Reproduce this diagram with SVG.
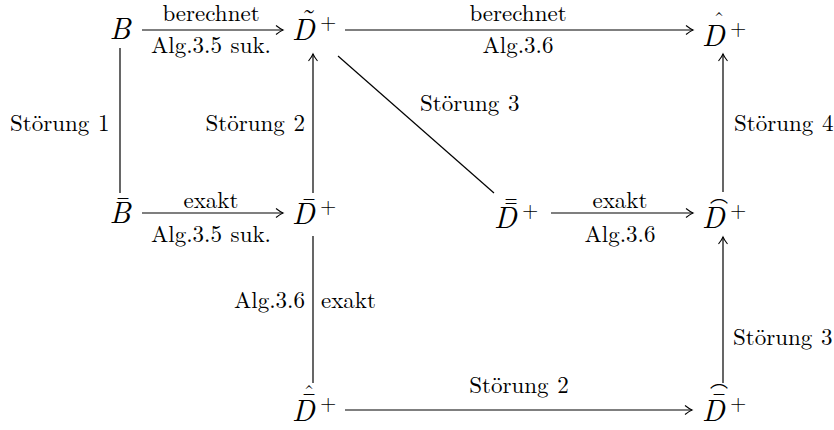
<svg xmlns="http://www.w3.org/2000/svg" width="834" height="430" viewBox="0 0 834 430">
<defs>
<style>
text{font-family:'Latin Modern Roman','CMU Serif','Liberation Serif','Times New Roman','DejaVu Serif',serif}
.lbl{font-size:23px;fill:#000;word-spacing:1px}
.m{font-style:italic;font-size:30px;fill:#000}
.sup{font-size:21px;fill:#000}
.acc{font-size:22px;fill:#000;text-anchor:middle}
.big{font-size:30px}
.arc{font-family:'Noto Sans CJK JP','DejaVu Sans',sans-serif;font-size:18px;fill:#000;text-anchor:middle}
.ln{stroke:#000;stroke-width:1.2;fill:none}
.c{text-anchor:middle}
.e{text-anchor:end}
</style>
<marker id="ah" markerUnits="userSpaceOnUse" markerWidth="12" markerHeight="12" viewBox="-8 -6 10 12" refX="0" refY="0" orient="auto">
<path d="M-7,-4.5 Q-2.5,-1 0,0 Q-2.5,1 -7,4.5" stroke="#000" stroke-width="1.1" fill="none"/>
</marker>
</defs>

<g id="connectors">
<line class="ln" x1="142" y1="30" x2="283" y2="30" marker-end="url(#ah)"/>
<line class="ln" x1="345" y1="30" x2="693" y2="30" marker-end="url(#ah)"/>
<line class="ln" x1="120" y1="48" x2="120" y2="193"/>
<line class="ln" x1="313" y1="193" x2="313" y2="54" marker-end="url(#ah)"/>
<line class="ln" x1="338" y1="56" x2="494" y2="193"/>
<line class="ln" x1="723" y1="192" x2="723" y2="54" marker-end="url(#ah)"/>
<line class="ln" x1="142" y1="213" x2="283" y2="213" marker-end="url(#ah)"/>
<line class="ln" x1="551" y1="213" x2="693" y2="213" marker-end="url(#ah)"/>
<line class="ln" x1="313" y1="236" x2="313" y2="383"/>
<line class="ln" x1="723" y1="383" x2="723" y2="237" marker-end="url(#ah)"/>
<line class="ln" x1="345" y1="410" x2="692" y2="410" marker-end="url(#ah)"/>
</g>

<g id="labels">
<text class="lbl c" x="211" y="21">berechnet</text>
<text class="lbl c" x="211" y="53">Alg.3.5 suk.</text>
<text class="lbl c" x="518" y="21">berechnet</text>
<text class="lbl c" x="518" y="53">Alg.3.6</text>
<text class="lbl" x="10" y="131">Störung 1</text>
<text class="lbl e" x="305" y="131">Störung 2</text>
<text class="lbl" x="420" y="111">Störung 3</text>
<text class="lbl" x="734" y="131">Störung 4</text>
<text class="lbl c" x="211" y="208">exakt</text>
<text class="lbl c" x="211" y="242">Alg.3.5 suk.</text>
<text class="lbl c" x="620" y="208">exakt</text>
<text class="lbl c" x="620" y="242">Alg.3.6</text>
<text class="lbl e" x="305" y="308">Alg.3.6</text>
<text class="lbl" x="321" y="308">exakt</text>
<text class="lbl c" x="519" y="393">Störung 2</text>
<text class="lbl" x="733" y="345">Störung 3</text>
</g>

<g id="n-B">
<text class="m c" x="120" y="39">B</text>
</g>
<g id="n-Dtilde">
<text class="m" x="292" y="40">D</text>
<text class="sup" x="320" y="29">+</text>
<text class="acc big" x="309" y="30">˜</text>
</g>
<g id="n-Dhat">
<text class="m" x="702" y="46">D</text>
<text class="sup" x="730" y="35">+</text>
<text class="acc" x="719" y="27">ˆ</text>
</g>
<g id="n-Bbar">
<text class="m c" x="120" y="223">B</text>
<text class="acc big" x="123" y="217">¯</text>
</g>
<g id="n-Dbar">
<text class="m" x="292" y="224">D</text>
<text class="sup" x="320" y="213">+</text>
<text class="acc big" x="309" y="218">¯</text>
</g>
<g id="n-Dbarbar">
<text class="m" x="494" y="228">D</text>
<text class="sup" x="522" y="217">+</text>
<text class="acc big" x="511" y="218">¯</text>
<text class="acc big" x="511" y="222">¯</text>
</g>
<g id="n-Dwide">
<text class="m" x="702" y="228">D</text>
<text class="sup" x="730" y="217">+</text>
<text class="arc" x="719" y="215">⌒</text>
</g>
<g id="n-Dhatbar">
<text class="m" x="292" y="421">D</text>
<text class="sup" x="320" y="410">+</text>
<text class="acc big" x="309" y="413">¯</text>
<text class="acc" x="309" y="400">ˆ</text>
</g>
<g id="n-Dwidebar">
<text class="m" x="702" y="421">D</text>
<text class="sup" x="730" y="410">+</text>
<text class="acc big" x="719" y="413">¯</text>
<text class="arc" x="719" y="400">⌒</text>
</g>
</svg>
